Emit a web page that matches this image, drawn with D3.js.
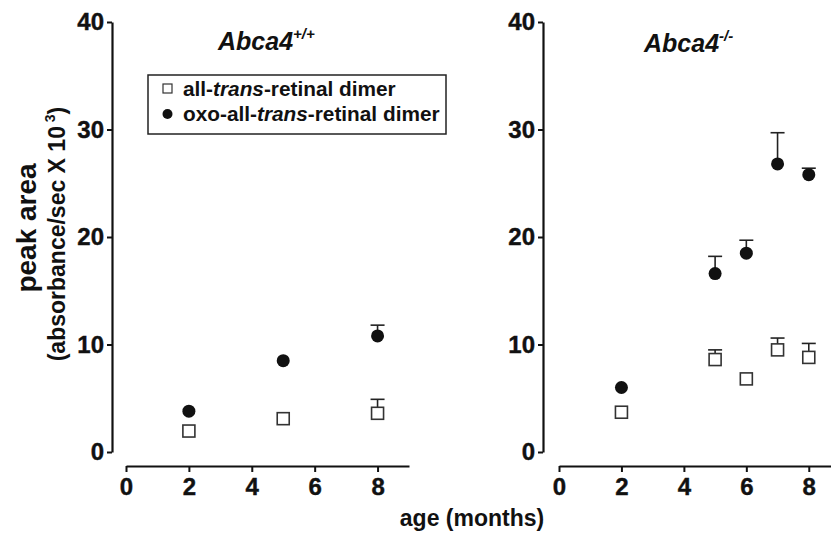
<!DOCTYPE html>
<html>
<head>
<meta charset="utf-8">
<script src="https://cdn.jsdelivr.net/npm/d3@7"></script>
<style>
  body { margin: 0; background: #fff; }
  text { font-family: "Liberation Sans", Arial, sans-serif; font-weight: bold; fill: #111; }
</style>
</head>
<body>
<svg id="chart" width="831" height="536"></svg>
<script>
// ages (months) and values (peak area, absorbance/sec x 10^3)
var wtAge = [2, 5, 8];
var wtDimer = [1.95, 3.1, 3.6];
var wtDimerErr = [0, 0, 1.3];
var wtOxo = [3.8, 8.5, 10.8];
var wtOxoErr = [0, 0, 1.0];

var koAge = [2, 5, 6, 7, 8];
var koDimer = [3.7, 8.6, 6.8, 9.5, 8.8];
var koDimerErr = [0, 0.9, 0, 1.1, 1.3];
var koOxo = [6.0, 16.6, 18.5, 26.8, 25.8];
var koOxoErr = [0, 1.6, 1.2, 2.9, 0.6];

var yTicks = [0, 10, 20, 30, 40];
var xTicks = [0, 2, 4, 6, 8];

var svg = d3.select('#chart');

var panels = [
  { age: wtAge, dimer: wtDimer, dimerErr: wtDimerErr, oxo: wtOxo, oxoErr: wtOxoErr,
    yAxisX: 112, xRange: [126, 409], title: '+/+', titleX: 218, titleY: 50 },
  { age: koAge, dimer: koDimer, dimerErr: koDimerErr, oxo: koOxo, oxoErr: koOxoErr,
    yAxisX: 543, xRange: [559, 840], title: '-/-', titleX: 644, titleY: 52 }
];

var y = d3.scaleLinear().domain([0, 40]).range([452, 22]);

panels.forEach(function(p) {
  var x = d3.scaleLinear().domain([0, 9]).range(p.xRange);
  var g = svg.append('g');

  // y axis
  var ya = g.append('g')
    .attr('transform', 'translate(' + p.yAxisX + ',0)')
    .call(d3.axisLeft(y).tickValues(yTicks).tickSize(5).tickSizeOuter(0).tickPadding(3));
  // x axis (detached below)
  var xa = g.append('g')
    .attr('transform', 'translate(0,466)')
    .call(d3.axisBottom(x).tickValues(xTicks).tickSize(6).tickSizeOuter(0).tickPadding(6));

  [ya, xa].forEach(function(a) {
    a.select('.domain').attr('stroke', '#111').attr('stroke-width', 2.2);
    a.selectAll('.tick line').attr('stroke', '#111').attr('stroke-width', 2);
    a.selectAll('.tick text')
      .attr('font-family', '"Liberation Sans", Arial, sans-serif')
      .attr('font-weight', 'bold')
      .attr('font-size', 24)
      .attr('fill', '#111')
      .attr('stroke', '#111').attr('stroke-width', 0.4);
  });
  xa.selectAll('.tick text').attr('dy', '0.71em').attr('y', 12);

  // title
  var t = g.append('text')
    .attr('x', p.titleX).attr('y', p.titleY)
    .attr('font-size', 25).attr('font-style', 'italic');
  t.append('tspan').text('Abca4');
  t.append('tspan').attr('font-size', 15).attr('dy', -11).text(p.title);

  // series
  var series = [
    { vals: p.dimer, err: p.dimerErr, type: 'square' },
    { vals: p.oxo, err: p.oxoErr, type: 'circle' }
  ];

  series.forEach(function(s) {
    var pts = p.age.map(function(a, i) { return { a: a, v: s.vals[i], e: s.err[i] }; });
    var eb = g.append('g').selectAll('g').data(pts.filter(function(d) { return d.e > 0; }))
      .enter().append('g')
      .attr('stroke', '#222').attr('stroke-width', 1.6);
    eb.append('line')
      .attr('x1', function(d) { return x(d.a); }).attr('x2', function(d) { return x(d.a); })
      .attr('y1', function(d) { return y(d.v); }).attr('y2', function(d) { return y(d.v + d.e); });
    eb.append('line')
      .attr('x1', function(d) { return x(d.a) - 7; }).attr('x2', function(d) { return x(d.a) + 7; })
      .attr('y1', function(d) { return y(d.v + d.e); }).attr('y2', function(d) { return y(d.v + d.e); });

    if (s.type === 'circle') {
      g.append('g').selectAll('circle').data(pts).enter().append('circle')
        .attr('cx', function(d) { return x(d.a); })
        .attr('cy', function(d) { return y(d.v); })
        .attr('r', 6.5)
        .attr('fill', '#111');
    } else {
      g.append('g').selectAll('rect').data(pts).enter().append('rect')
        .attr('x', function(d) { return x(d.a) - 6; })
        .attr('y', function(d) { return y(d.v) - 6; })
        .attr('width', 12).attr('height', 12)
        .attr('fill', '#fff').attr('stroke', '#333').attr('stroke-width', 1.6);
    }
  });
});

// legend
var lg = svg.append('g');
lg.append('rect').attr('x', 148).attr('y', 75).attr('width', 298).attr('height', 59)
  .attr('fill', '#fff').attr('stroke', '#222').attr('stroke-width', 1.5);
lg.append('rect').attr('x', 163).attr('y', 84).attr('width', 9).attr('height', 9)
  .attr('fill', '#fff').attr('stroke', '#333').attr('stroke-width', 1.2);
lg.append('circle').attr('cx', 167.5).attr('cy', 114).attr('r', 5).attr('fill', '#111');

var l1 = lg.append('text').attr('x', 183).attr('y', 96).attr('font-size', 20.8);
l1.append('tspan').text('all-');
l1.append('tspan').attr('font-style', 'italic').text('trans');
l1.append('tspan').text('-retinal dimer');
var l2 = lg.append('text').attr('x', 183).attr('y', 121).attr('font-size', 20.8);
l2.append('tspan').text('oxo-all-');
l2.append('tspan').attr('font-style', 'italic').text('trans');
l2.append('tspan').text('-retinal dimer');

// axis titles
svg.append('text').attr('transform', 'translate(36,228) rotate(-90)')
  .attr('text-anchor', 'middle').attr('font-size', 28).text('peak area');
var yl = svg.append('text').attr('transform', 'translate(65,234) rotate(-90)')
  .attr('text-anchor', 'middle').attr('font-size', 23);
yl.append('tspan').text('(absorbance/sec X 10');
yl.append('tspan').attr('font-size', 14).attr('dy', -10).text(' 3');
yl.append('tspan').attr('dy', 10).text(')');

svg.append('text').attr('x', 472).attr('y', 526).attr('text-anchor', 'middle')
  .attr('font-size', 23).text('age (months)');
</script>
</body>
</html>
